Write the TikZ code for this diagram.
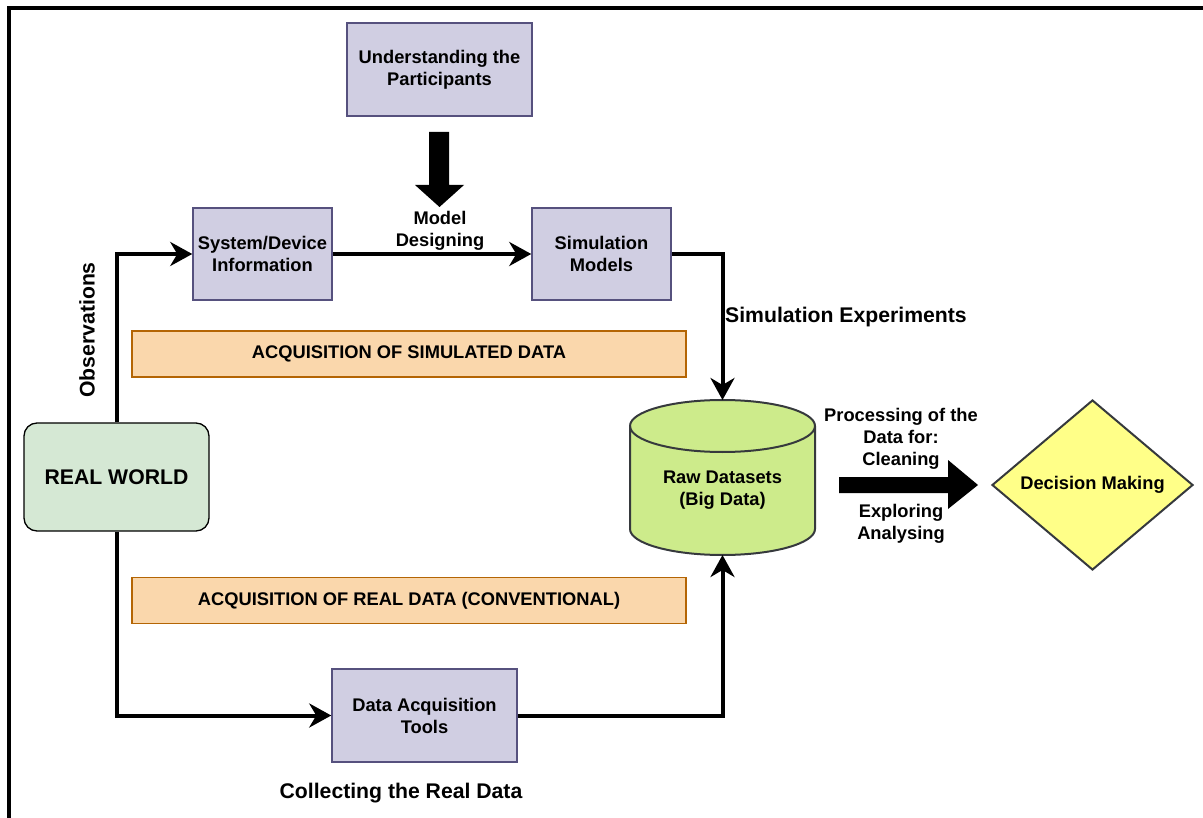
\documentclass[tikz,border=0pt]{standalone}
\usepackage{fontspec}
\setmainfont{Liberation Sans}
\usetikzlibrary{arrows.meta,shapes.geometric}

\definecolor{boxfill}{HTML}{D0CEE2}
\definecolor{boxline}{HTML}{56517E}
\definecolor{bandfill}{HTML}{FAD7AC}
\definecolor{bandline}{HTML}{B46504}
\definecolor{worldfill}{HTML}{D5E8D4}
\definecolor{cylfill}{HTML}{CDEB8B}
\definecolor{darkline}{HTML}{36393D}
\definecolor{decfill}{HTML}{FFFF88}

\tikzset{
  txt/.style={font=\fontsize{18.3}{22}\selectfont\bfseries, align=center, inner sep=0pt},
  bigtxt/.style={font=\fontsize{21.2}{25}\selectfont\bfseries, align=center, inner sep=0pt},
  procbox/.style={txt, draw=boxline, fill=boxfill, line width=1.5pt,
                  minimum width=139pt, minimum height=92pt},
  band/.style={txt, draw=bandline, fill=bandfill, line width=1.5pt,
               minimum width=554pt, minimum height=46pt},
  conn/.style={line width=4pt, -{Stealth[length=22pt,width=24pt,inset=7pt]}},
}

\begin{document}
\begin{tikzpicture}[x=1pt, y=-1pt]
\useasboundingbox (0,0) rectangle (1203,818);

% outer frame
\draw[line width=4.5pt] (9,818) -- (9,8) -- (1203,8);

% process boxes
\node[procbox, minimum width=185pt, minimum height=93pt] (part) at (439.5,69.5) {Understanding the\\Participants};
\node[procbox] (sys) at (262.5,254) {System/Device\\Information};
\node[procbox] (sim) at (601.5,254) {Simulation\\Models};
\node[procbox, minimum width=185pt, minimum height=93pt] (daq) at (424.5,715.5) {Data Acquisition\\Tools};

% real world
\node[bigtxt, draw=black, fill=worldfill, line width=1.3pt, rounded corners=13pt,
      minimum width=185pt, minimum height=108pt] (rw) at (116.5,477) {REAL WORLD};

% acquisition bands
\node[band] (simband) at (409,354) {ACQUISITION OF SIMULATED DATA};
\node[band] (realband) at (409,600.5) {ACQUISITION OF REAL DATA (CONVENTIONAL)};

% data store cylinder
\path[fill=cylfill] (630,426) -- (630,529)
  arc[start angle=180, end angle=360, x radius=92.5pt, y radius=26pt]
  -- (815,426)
  arc[start angle=0, end angle=180, x radius=92.5pt, y radius=26pt] -- cycle;
\draw[darkline, line width=2pt] (630,426) -- (630,529)
  arc[start angle=180, end angle=360, x radius=92.5pt, y radius=26pt]
  -- (815,426)
  arc[start angle=0, end angle=180, x radius=92.5pt, y radius=26pt];
\draw[darkline, line width=2pt] (630,426)
  arc[start angle=180, end angle=360, x radius=92.5pt, y radius=26pt];
\node[txt] (raw) at (722.5,490) {Raw Datasets\\(Big Data)};
\coordinate (rawtop) at (722.5,400);
\coordinate (rawbot) at (722.5,555);

% decision
\node[diamond, draw=darkline, fill=decfill, line width=2pt, inner sep=0pt,
      minimum width=201pt, minimum height=170pt, txt] (dec) at (1092.5,485) {Decision Making};

% block arrows
\fill (429,132) -- (449,132) -- (449,185) -- (464,185) -- (439.5,207)
      -- (415,185) -- (429,185) -- cycle;
\fill (839,477) -- (948,477) -- (948,460) -- (978,485) -- (948,509)
      -- (948,493) -- (839,493) -- cycle;

% connectors
\draw[conn] (rw.north) |- (sys.west);
\draw[conn] (sys.east) -- (sim.west);
\draw[conn] (sim.east) -| (rawtop);
\draw[conn] (rw.south) |- (daq.west);
\draw[conn] (daq.east) -| (rawbot);

% labels
\node[txt] (design) at (440,231) {Model\\Designing};
\node[bigtxt, rotate=90] (obs) at (87,330) {Observations};
\node[bigtxt, anchor=west] (simexp) at (725,317) {Simulation Experiments};
\node[bigtxt] (collect) at (401,793) {Collecting the Real Data};
\node[txt] (proc) at (901,439) {Processing of the\\Data for:\\Cleaning};
\node[txt] (explore) at (901,524) {Exploring\\Analysing};
\end{tikzpicture}
\end{document}
